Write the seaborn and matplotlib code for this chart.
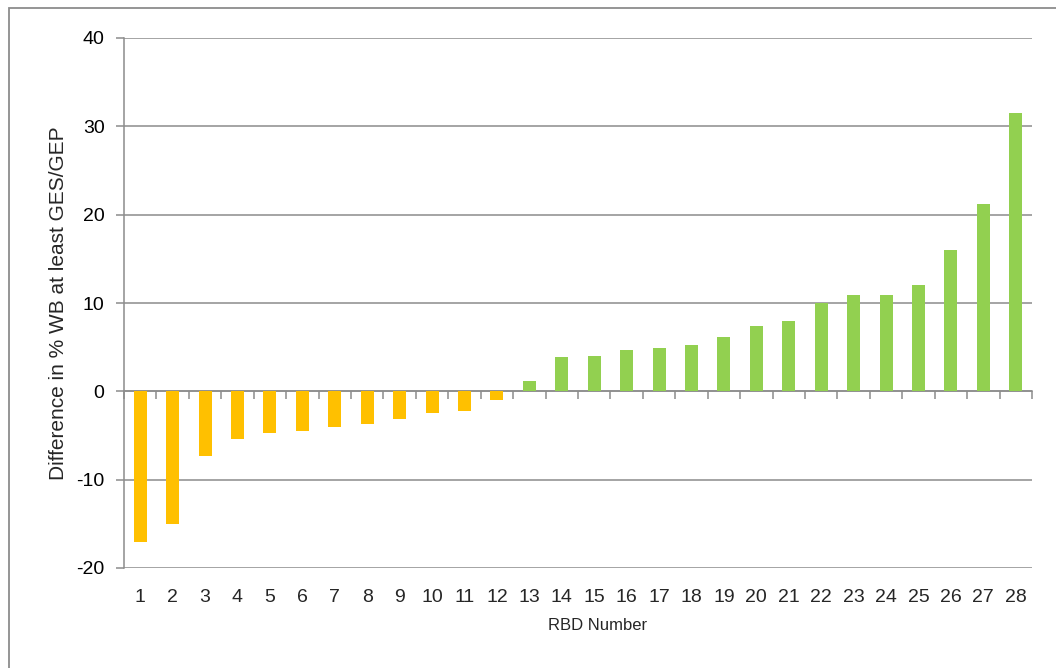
import seaborn as sns
import pandas as pd
import matplotlib.pyplot as plt
from matplotlib.patches import Rectangle
from matplotlib.ticker import FixedLocator, NullFormatter

# Data
rbd_numbers = [str(i) for i in range(1, 29)]
differences = [-17.0, -15.0, -7.3, -5.4, -4.7, -4.5, -4.0, -3.7, -3.1, -2.45, -2.2, -1.0,
               1.2, 3.9, 4.0, 4.7, 4.9, 5.3, 6.2, 7.4, 8.0, 10.0, 10.9, 10.9, 12.0, 16.0, 21.2, 31.5]
y_ticks = [-20, -10, 0, 10, 20, 30, 40]

df = pd.DataFrame({'rbd': rbd_numbers, 'diff': differences})
df['sign'] = ['neg' if v < 0 else 'pos' for v in df['diff']]

grid_color = '#8c8c8c'

sns.set_style('white')
plt.rcParams['font.family'] = ['Liberation Sans', 'DejaVu Sans']

fig = plt.figure(figsize=(10.56, 6.68), dpi=100)
ax = fig.add_axes([124 / 1056, 1 - 568 / 668, 908 / 1056, 530 / 668])

sns.barplot(data=df, x='rbd', y='diff', hue='sign', order=rbd_numbers,
            palette={'neg': '#FFC000', 'pos': '#92D050'}, dodge=False,
            width=0.4, legend=False, saturation=1, linewidth=0, ax=ax, zorder=3)

ax.set_ylim(-20, 40)
ax.set_xlim(-0.5, len(rbd_numbers) - 0.5)
ax.set_yticks(y_ticks)
ax.set_yticklabels([str(t) for t in y_ticks])
ax.yaxis.grid(True, color=grid_color, linewidth=1.1, zorder=0)
ax.set_axisbelow(True)

for side in ['top', 'right']:
    ax.spines[side].set_visible(False)
ax.spines['left'].set_color(grid_color)
ax.spines['left'].set_linewidth(1.1)

# horizontal axis crosses at zero, tick marks between categories
ax.spines['bottom'].set_position(('data', 0))
ax.spines['bottom'].set_color(grid_color)
ax.spines['bottom'].set_linewidth(1.1)
ax.xaxis.set_major_formatter(NullFormatter())
ax.xaxis.set_minor_locator(FixedLocator([i + 0.5 for i in range(-1, len(rbd_numbers))]))
ax.tick_params(axis='x', which='major', length=0)
ax.tick_params(axis='x', which='minor', bottom=True, length=6, width=1.1,
               color=grid_color, direction='out')
ax.tick_params(axis='y', left=True, length=6, width=1.1, color=grid_color, direction='out',
               labelsize=14, pad=8, labelcolor='black')
ax.set_xlabel('')
ax.set_ylabel('Difference in % WB at least GES/GEP', fontsize=15, labelpad=6)

# category labels at the bottom of the plot area
sec = ax.secondary_xaxis('bottom')
sec.set_xticks(range(len(rbd_numbers)), labels=rbd_numbers)
sec.tick_params(length=0, labelsize=14, pad=15)
sec.spines['bottom'].set_visible(False)
sec.set_xlabel('RBD Number', fontsize=12, labelpad=9)
sec.xaxis.label.set_x((598 - 124) / 908)

# chart area border
fig.patches.append(Rectangle((9 / 1056, -0.05), 1.1, 1 - 8 / 668 + 0.05,
                             transform=fig.transFigure, fill=False,
                             edgecolor=grid_color, linewidth=1.3))

fig.savefig('out.png', dpi=100)
